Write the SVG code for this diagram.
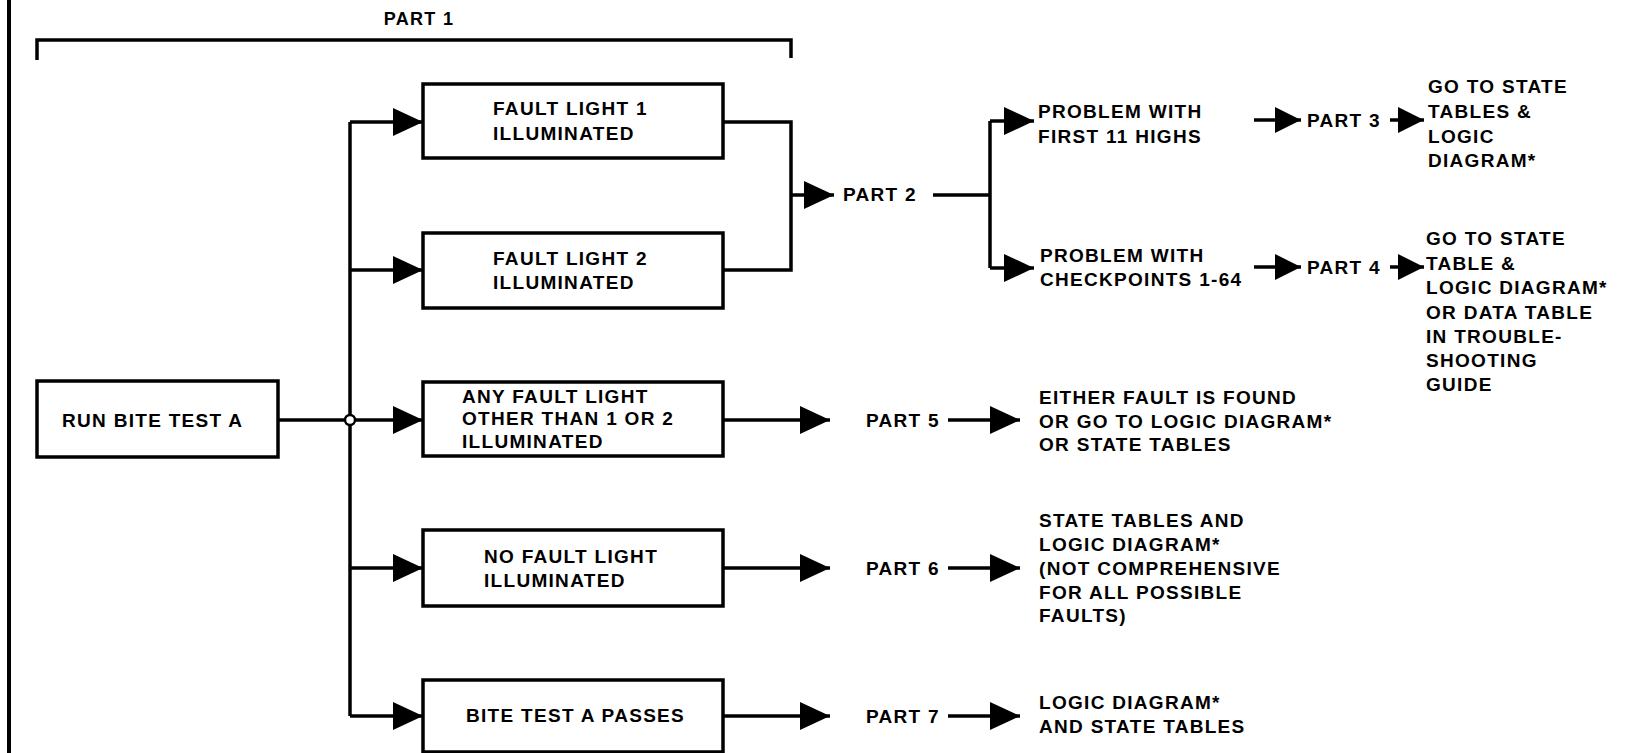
<svg xmlns="http://www.w3.org/2000/svg" width="1639" height="753" viewBox="0 0 1639 753">
<defs>
<style>
text{font-family:"Liberation Sans",Arial,sans-serif;font-weight:bold;font-size:19px;letter-spacing:1.3px;fill:#000}
.box{fill:none;stroke:#000;stroke-width:3.5}
.ln{fill:none;stroke:#000;stroke-width:3.5}
.ar{fill:none;stroke:#000;stroke-width:3.5;marker-end:url(#ah)}
.as{fill:none;stroke:#000;stroke-width:3.5;marker-end:url(#as)}
</style>
<marker id="ah" markerUnits="userSpaceOnUse" markerWidth="30" markerHeight="30" refX="30" refY="15" orient="auto"><path d="M0,1 L30,15 L0,29 Z" fill="#000"/></marker>
<marker id="as" markerUnits="userSpaceOnUse" markerWidth="26" markerHeight="28" refX="26" refY="14" orient="auto"><path d="M0,1 L26,14 L0,27 Z" fill="#000"/></marker>
</defs>
<rect width="1639" height="753" fill="#fff"/>
<g id="frame">
<line x1="9" y1="0" x2="9" y2="753" stroke="#000" stroke-width="4"/>
<path d="M37,60 V40 H791 V58" fill="none" stroke="#000" stroke-width="3.5"/>
<text x="419" y="25" text-anchor="middle" style="font-size:18px">PART 1</text>
</g>
<g id="connectors">
<path class="ln" d="M278,420 H350"/>
<path class="ln" d="M350,122 V716"/>
<path class="ar" d="M350,122 H423"/>
<path class="ar" d="M350,270 H423"/>
<path class="ar" d="M350,420 H423"/>
<path class="ar" d="M350,568 H423"/>
<path class="ar" d="M350,716 H423"/>
<circle cx="350" cy="420" r="5" fill="#fff" stroke="#000" stroke-width="2.5"/>
<path class="ln" d="M723,122 H791 V270 H723"/>
<path class="ar" d="M791,195 H834"/>
<path class="ln" d="M933,195 H990"/>
<path class="ln" d="M990,121 V268"/>
<path class="ar" d="M990,121 H1034"/>
<path class="ar" d="M990,268 H1034"/>
<path class="as" d="M1254,120 H1301"/>
<path class="as" d="M1390,120 H1424"/>
<path class="as" d="M1254,267 H1301"/>
<path class="as" d="M1390,267 H1424"/>
<path class="ar" d="M723,420 H830"/>
<path class="ar" d="M948,420 H1020"/>
<path class="ar" d="M723,568 H830"/>
<path class="ar" d="M948,568 H1020"/>
<path class="ar" d="M723,716 H830"/>
<path class="ar" d="M948,716 H1020"/>
</g>
<g id="run">
<rect class="box" x="37" y="381" width="241" height="76"/>
<text x="62" y="427">RUN BITE TEST A</text>
</g>
<g id="fl1">
<rect class="box" x="423" y="84" width="300" height="74"/>
<text x="493" y="115">FAULT LIGHT 1</text>
<text x="493" y="140">ILLUMINATED</text>
</g>
<g id="fl2">
<rect class="box" x="423" y="233" width="300" height="75"/>
<text x="493" y="265">FAULT LIGHT 2</text>
<text x="493" y="289">ILLUMINATED</text>
</g>
<g id="anyfault">
<rect class="box" x="423" y="382" width="300" height="74"/>
<text x="462" y="403">ANY FAULT LIGHT</text>
<text x="462" y="425">OTHER THAN 1 OR 2</text>
<text x="462" y="448">ILLUMINATED</text>
</g>
<g id="nofault">
<rect class="box" x="423" y="530" width="300" height="76"/>
<text x="484" y="563">NO FAULT LIGHT</text>
<text x="484" y="587">ILLUMINATED</text>
</g>
<g id="passes">
<rect class="box" x="423" y="680" width="300" height="72"/>
<text x="466" y="722">BITE TEST A PASSES</text>
</g>
<g id="part2"><text x="843" y="201">PART 2</text></g>
<g id="p11highs">
<text x="1038" y="118">PROBLEM WITH</text>
<text x="1038" y="143">FIRST 11 HIGHS</text>
</g>
<g id="pcheck">
<text x="1040" y="262">PROBLEM WITH</text>
<text x="1040" y="286">CHECKPOINTS 1-64</text>
</g>
<g id="part3"><text x="1307" y="127">PART 3</text></g>
<g id="part4"><text x="1307" y="274">PART 4</text></g>
<g id="res3">
<text x="1428" y="93">GO TO STATE</text>
<text x="1428" y="118">TABLES &amp;</text>
<text x="1428" y="143">LOGIC</text>
<text x="1428" y="167">DIAGRAM*</text>
</g>
<g id="res4">
<text x="1426" y="245">GO TO STATE</text>
<text x="1426" y="270">TABLE &amp;</text>
<text x="1426" y="294">LOGIC DIAGRAM*</text>
<text x="1426" y="319">OR DATA TABLE</text>
<text x="1426" y="343">IN TROUBLE-</text>
<text x="1426" y="367">SHOOTING</text>
<text x="1426" y="391">GUIDE</text>
</g>
<g id="part5"><text x="866" y="427">PART 5</text></g>
<g id="res5">
<text x="1039" y="404">EITHER FAULT IS FOUND</text>
<text x="1039" y="428">OR GO TO LOGIC DIAGRAM*</text>
<text x="1039" y="451">OR STATE TABLES</text>
</g>
<g id="part6"><text x="866" y="575">PART 6</text></g>
<g id="res6">
<text x="1039" y="527">STATE TABLES AND</text>
<text x="1039" y="551">LOGIC DIAGRAM*</text>
<text x="1039" y="575">(NOT COMPREHENSIVE</text>
<text x="1039" y="599">FOR ALL POSSIBLE</text>
<text x="1039" y="622">FAULTS)</text>
</g>
<g id="part7"><text x="866" y="723">PART 7</text></g>
<g id="res7">
<text x="1039" y="709">LOGIC DIAGRAM*</text>
<text x="1039" y="733">AND STATE TABLES</text>
</g>
</svg>
